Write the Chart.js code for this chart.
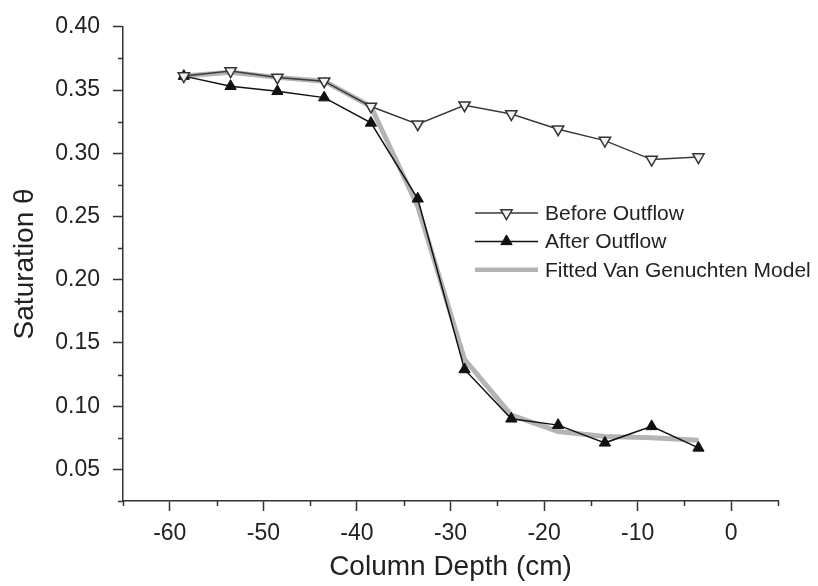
<!DOCTYPE html>
<html><head><meta charset="utf-8">
<script src="https://cdn.jsdelivr.net/npm/chart.js@4.4.0/dist/chart.umd.min.js"></script>
<style>html,body{margin:0;padding:0;background:#fff;} canvas{display:block;}</style>
</head><body>
<canvas id="c" width="818" height="586"></canvas>
<script>
const depth = [-58.5, -53.5, -48.5, -43.5, -38.5, -33.5, -28.5, -23.5, -18.5, -13.5, -8.5, -3.5];
const beforeOutflow = [0.361, 0.365, 0.360, 0.357, 0.337, 0.323, 0.338, 0.331, 0.319, 0.310, 0.295, 0.297];
const afterOutflow = [0.361, 0.353, 0.349, 0.344, 0.324, 0.264, 0.129, 0.090, 0.085, 0.071, 0.084, 0.067];
const fittedModel = [0.361, 0.364, 0.360, 0.357, 0.337, 0.258, 0.137, 0.093, 0.080, 0.076, 0.075, 0.073];
const seriesNames = ['Before Outflow', 'After Outflow', 'Fitted Van Genuchten Model'];
const xTickValues = [-60, -50, -40, -30, -20, -10, 0];
const xMinorTicks = [-65, -55, -45, -35, -25, -15, -5, 5];
const yTickValues = [0.05, 0.10, 0.15, 0.20, 0.25, 0.30, 0.35, 0.40];
const yMinorTicks = [0.025, 0.075, 0.125, 0.175, 0.225, 0.275, 0.325, 0.375];
const xTitle = 'Column Depth (cm)';
const yTitle = 'Saturation θ';

const FONT = "'Liberation Sans', Arial, sans-serif";
const AXIS = '#333333';
const TEXT = '#222222';

const toPts = (ys) => depth.map((x, i) => ({x, y: ys[i]}));

const minorTicksPlugin = {
  id: 'minorTicks',
  afterDraw(chart) {
    const {ctx, scales: {x, y}} = chart;
    ctx.save();
    ctx.strokeStyle = AXIS; ctx.lineWidth = 1.5;
    ctx.beginPath();
    xMinorTicks.forEach(v => { const p = Math.round(x.getPixelForValue(v)) + 0.5; ctx.moveTo(p, x.top); ctx.lineTo(p, x.top + 5); });
    yMinorTicks.forEach(v => { const p = Math.round(y.getPixelForValue(v)) + 0.5; ctx.moveTo(y.right, p); ctx.lineTo(y.right - 5, p); });
    ctx.stroke();
    ctx.restore();
  }
};

const legendStyle = {left: 475, top: 213, lineLen: 63, gap: 7, rowH: 28.4, font: '21px ' + FONT};
const legendPlugin = {
  id: 'insideLegend',
  afterDraw(chart) {
    const {ctx} = chart;
    ctx.save();
    chart.data.datasets.forEach((ds, i) => {
      const yy = legendStyle.top + i * legendStyle.rowH;
      ctx.strokeStyle = ds.borderColor;
      ctx.lineWidth = ds.legendLineWidth || ds.borderWidth;
      ctx.beginPath();
      ctx.moveTo(legendStyle.left, yy);
      ctx.lineTo(legendStyle.left + legendStyle.lineLen, yy);
      ctx.stroke();
      if (ds.pointRadius > 0) {
        ctx.fillStyle = ds.pointBackgroundColor;
        ctx.strokeStyle = ds.pointBorderColor;
        ctx.lineWidth = ds.pointBorderWidth;
        Chart.helpers.drawPoint(ctx, {pointStyle: ds.pointStyle, rotation: ds.pointRotation || 0, radius: ds.pointRadius, borderWidth: ds.pointBorderWidth}, legendStyle.left + legendStyle.lineLen / 2, yy);
      }
      ctx.fillStyle = TEXT;
      ctx.font = legendStyle.font;
      ctx.textBaseline = 'middle';
      ctx.textAlign = 'left';
      ctx.fillText(ds.label, legendStyle.left + legendStyle.lineLen + legendStyle.gap, yy + 1);
    });
    ctx.restore();
  }
};

new Chart(document.getElementById('c'), {
  type: 'scatter',
  data: {
    datasets: [
      {
        label: seriesNames[0], data: toPts(beforeOutflow), showLine: true,
        borderColor: '#3a3a3a', borderWidth: 1.5,
        pointStyle: 'triangle', pointRotation: 180, pointRadius: 6.5,
        pointBackgroundColor: '#f2f2f2', pointBorderColor: '#333333', pointBorderWidth: 1.5
      },
      {
        label: seriesNames[1], data: toPts(afterOutflow), showLine: true,
        borderColor: '#111111', borderWidth: 1.5,
        pointStyle: 'triangle', pointRotation: 0, pointRadius: 6.5,
        pointBackgroundColor: '#111111', pointBorderColor: '#111111', pointBorderWidth: 1
      },
      {
        label: seriesNames[2], data: toPts(fittedModel), showLine: true,
        borderColor: '#b4b4b4', borderWidth: 5, legendLineWidth: 4.5,
        pointRadius: 0, pointHoverRadius: 0
      }
    ]
  },
  options: {
    responsive: false, animation: false, devicePixelRatio: 1,
    layout: {padding: {left: 0, right: 40, top: 18, bottom: 0}},
    plugins: {legend: {display: false}, tooltip: {enabled: false}},
    elements: {line: {tension: 0}},
    scales: {
      x: {
        type: 'linear', min: -65, max: 5,
        afterBuildTicks: (s) => { s.ticks = xTickValues.map(v => ({value: v})); },
        afterFit: (s) => { s.height = 85; },
        grid: {display: true, drawOnChartArea: false, drawTicks: true, tickLength: 10, tickColor: AXIS, tickWidth: 1.5},
        border: {display: true, color: AXIS, width: 1.5},
        ticks: {color: TEXT, font: {family: FONT, size: 23}, padding: 9, maxRotation: 0, autoSkip: false, callback: (v) => String(v)},
        title: {display: true, text: xTitle, color: TEXT, font: {family: FONT, size: 28, lineHeight: 1}, padding: {top: 0, bottom: 5}}
      },
      y: {
        type: 'linear', min: 0.025, max: 0.40,
        afterBuildTicks: (s) => { s.ticks = yTickValues.map(v => ({value: v})); },
        afterFit: (s) => { s.width = 123; },
        grid: {display: true, drawOnChartArea: false, drawTicks: true, tickLength: 10, tickColor: AXIS, tickWidth: 1.5},
        border: {display: true, color: AXIS, width: 1.5},
        ticks: {color: TEXT, font: {family: FONT, size: 23}, padding: 13, autoSkip: false, callback: (v) => Number(v).toFixed(2)},
        title: {display: true, text: yTitle, color: TEXT, font: {family: FONT, size: 28, lineHeight: 1}, padding: {top: 11, bottom: 0}}
      }
    }
  },
  plugins: [minorTicksPlugin, legendPlugin]
});
</script>
</body></html>
